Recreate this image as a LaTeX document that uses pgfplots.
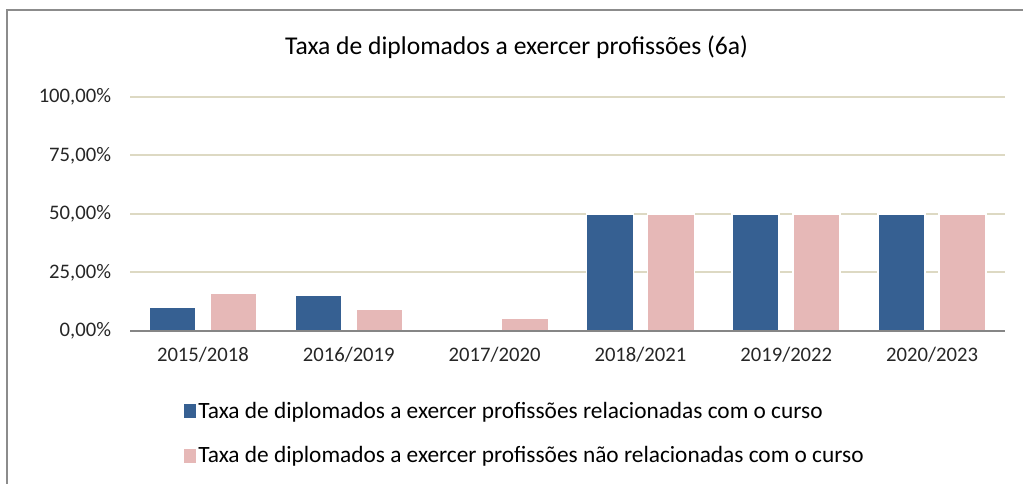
\documentclass[border=0pt]{standalone}
\usepackage{pgfplots}
\pgfplotsset{compat=1.18}
\usepackage{fontspec}
\setmainfont{Carlito}
\definecolor{barblue}{HTML}{366092}
\definecolor{barpink}{HTML}{E6B8B7}
\definecolor{gridtan}{HTML}{DDD9C3}
\definecolor{axgray}{HTML}{868686}
\definecolor{framegray}{HTML}{8C8C8C}
\begin{document}
\begin{tikzpicture}
\useasboundingbox (0,0) rectangle (767.25pt,363pt);
\draw[framegray, line width=1.5pt] (5.25pt,0pt) -- (5.25pt,355.5pt) -- (767.25pt,355.5pt);
\node[font=\fontsize{19.2}{22}\selectfont] at (387.4pt,327.75pt) {Taxa de diplomados a exercer profissões (6a)};
\begin{axis}[
  at={(97.5pt,114.75pt)}, anchor=south west,
  scale only axis, width=656.25pt, height=175.5pt,
  xmin=-0.5, xmax=5.5, ymin=0, ymax=100,
  xtick={0,1,2,3,4,5},
  xticklabels={2015/2018,2016/2019,2017/2020,2018/2021,2019/2022,2020/2023},
  ytick={0,25,50,75,100},
  yticklabels={0{,}00\%,25{,}00\%,50{,}00\%,75{,}00\%,100{,}00\%},
  ymajorgrids, grid style={gridtan, line width=1.5pt},
  axis line style={draw=none}, major tick length=0pt,
  tick label style={font=\fontsize{15.5}{18}\selectfont, text=black!85},
  yticklabel style={anchor=east, inner sep=0pt, xshift=-14pt},
  xticklabel style={anchor=north, inner sep=0pt, yshift=-12pt},
  ybar, bar width=35.25pt,
  legend style={draw=none, fill=none, at={(0,0)}, anchor=north west, xshift=40pt, yshift=-51pt,
    font=\fontsize{17.5}{20}\selectfont, row sep=16pt, inner sep=0pt, cells={anchor=west}},
  legend cell align=left,
  legend image code/.code={\fill[#1,draw=none] (0pt,-5pt) rectangle (9pt,5pt);},
  clip=false,
]
\addplot[fill=barblue, draw=white, line width=1.2pt, bar shift=-22.9pt] coordinates {(0,10.2) (1,15.3) (2,0) (3,50) (4,50) (5,50)};
\addplot[fill=barpink, draw=white, line width=1.2pt, bar shift=22.9pt] coordinates {(0,16.2) (1,9.4) (2,5.3) (3,50) (4,50) (5,50)};
\legend{Taxa de diplomados a exercer profissões relacionadas com o curso, Taxa de diplomados a exercer profissões não relacionadas com o curso}
\draw[axgray, line width=1.5pt] (rel axis cs:0,0) -- (rel axis cs:1,0);
\end{axis}
\end{tikzpicture}
\end{document}
